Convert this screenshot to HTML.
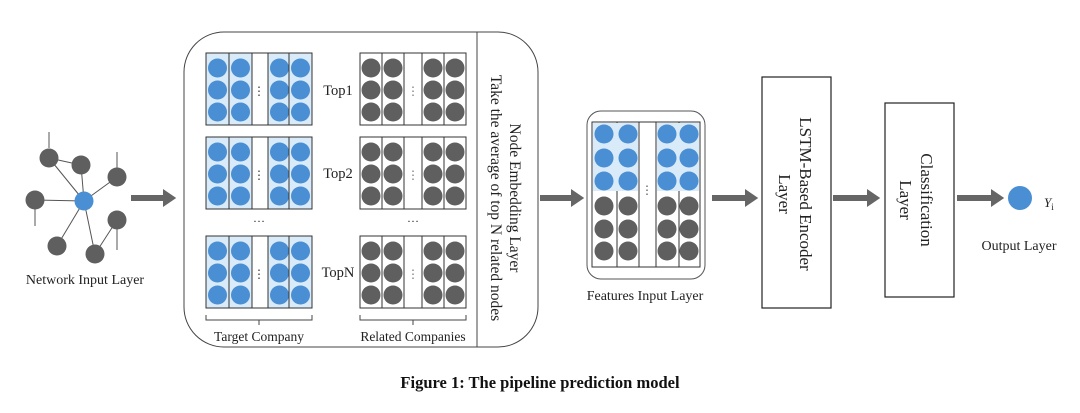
<!DOCTYPE html>
<html><head><meta charset="utf-8"><style>
html,body{margin:0;padding:0;background:#fff;}
svg{display:block;font-family:"Liberation Serif",serif;}
</style></head><body>
<svg width="1080" height="413" viewBox="0 0 1080 413" xmlns="http://www.w3.org/2000/svg">
<defs>
<g id="bcol"><rect x="0" y="0" width="23" height="72" fill="#d9ebf8" stroke="#333" stroke-width="1"/>
<circle cx="11.5" cy="15" r="9.5" fill="#4a8ed3"/><circle cx="11.5" cy="37" r="9.5" fill="#4a8ed3"/><circle cx="11.5" cy="59" r="9.5" fill="#4a8ed3"/></g>
<g id="gcol"><rect x="0" y="0" width="22" height="72" fill="#fff" stroke="#333" stroke-width="1"/>
<circle cx="11" cy="15" r="9.5" fill="#5f5f5f"/><circle cx="11" cy="37" r="9.5" fill="#5f5f5f"/><circle cx="11" cy="59" r="9.5" fill="#5f5f5f"/></g>
<g id="bgrid"><rect x="0" y="0" width="106" height="72" fill="#fff" stroke="#333"/>
<use href="#bcol" x="0"/><use href="#bcol" x="23"/><use href="#bcol" x="62"/><use href="#bcol" x="83"/>
<text x="53" y="42" font-size="12" text-anchor="middle" fill="#333">⋮</text></g>
<g id="ggrid"><rect x="0" y="0" width="106" height="72" fill="#fff" stroke="#333"/>
<use href="#gcol" x="0"/><use href="#gcol" x="22"/><use href="#gcol" x="62"/><use href="#gcol" x="84"/>
<text x="53" y="42" font-size="12" text-anchor="middle" fill="#777">⋮</text></g>
<marker id="ah" markerWidth="3" markerHeight="3" refX="1.5" refY="1.5" orient="auto" markerUnits="strokeWidth"><path d="M0,0 L2.2,1.5 L0,3 z" fill="#666"/></marker>
</defs>

<g stroke="#555" stroke-width="1">
<line x1="84" y1="201" x2="49" y2="158"/><line x1="84" y1="201" x2="81" y2="165"/><line x1="84" y1="201" x2="117" y2="177"/>
<line x1="84" y1="201" x2="35" y2="200"/><line x1="84" y1="201" x2="57" y2="246"/><line x1="84" y1="201" x2="95" y2="254"/>
<line x1="49" y1="158" x2="81" y2="165"/><line x1="95" y1="254" x2="117" y2="220"/>
<line x1="49" y1="148" x2="49" y2="132"/><line x1="117" y1="170" x2="117" y2="152"/><line x1="35" y1="208" x2="35" y2="226"/><line x1="117" y1="228" x2="117" y2="250"/>
</g>
<g fill="#5f5f5f"><circle cx="49" cy="158" r="9.5"/><circle cx="81" cy="165" r="9.5"/><circle cx="117" cy="177" r="9.5"/><circle cx="35" cy="200" r="9.5"/><circle cx="117" cy="220" r="9.5"/><circle cx="57" cy="246" r="9.5"/><circle cx="95" cy="254" r="9.5"/></g>
<circle cx="84" cy="201" r="9.5" fill="#4a8ed3"/>
<text x="85" y="284" font-size="14" text-anchor="middle" fill="#222">Network Input Layer</text>

<g stroke="#666" stroke-width="6" fill="none">
<line x1="131" y1="198" x2="172" y2="198" marker-end="url(#ah)"/>
<line x1="540" y1="198" x2="580" y2="198" marker-end="url(#ah)"/>
<line x1="712" y1="198" x2="754" y2="198" marker-end="url(#ah)"/>
<line x1="833" y1="198" x2="876" y2="198" marker-end="url(#ah)"/>
<line x1="957" y1="198" x2="1000" y2="198" marker-end="url(#ah)"/>
</g>

<rect x="184" y="32" width="354" height="315" rx="40" fill="none" stroke="#444" stroke-width="1"/>
<line x1="477" y1="32" x2="477" y2="347" stroke="#444"/>
<use href="#bgrid" x="206" y="53"/><use href="#bgrid" x="206" y="137"/><use href="#bgrid" x="206" y="236"/>
<use href="#ggrid" x="360" y="53"/><use href="#ggrid" x="360" y="137"/><use href="#ggrid" x="360" y="236"/>
<g font-size="14.5" fill="#222" text-anchor="middle">
<text x="338" y="95">Top1</text><text x="338" y="178">Top2</text><text x="338" y="277">TopN</text>
<text x="259" y="222" font-size="12">…</text><text x="413" y="222" font-size="12">…</text>
</g>
<g stroke="#444" fill="none" stroke-width="1">
<path d="M206,315 v5 H312 v-5 M259,320 v5"/>
<path d="M360,315 v5 H466 v-5 M413,320 v5"/>
</g>
<g font-size="13.5" fill="#222" text-anchor="middle">
<text x="259" y="341">Target Company</text><text x="413" y="341">Related Companies</text>
</g>
<g font-size="15.5" fill="#222" text-anchor="middle">
<text transform="translate(510,198) rotate(90)">Node Embedding Layer</text>
<text transform="translate(491,198) rotate(90)">Take the average of top N related nodes</text>
</g>

<rect x="587" y="111" width="118" height="168" rx="14" fill="none" stroke="#555"/>
<rect x="592" y="122" width="108" height="145" fill="#fff" stroke="#333"/>
<g>
<rect x="592" y="122" width="25" height="145" fill="#fff" stroke="#333"/><rect x="617" y="122" width="22" height="145" fill="#fff" stroke="#333"/>
<rect x="656" y="122" width="23" height="145" fill="#fff" stroke="#333"/><rect x="679" y="122" width="21" height="145" fill="#fff" stroke="#333"/>
<rect x="593" y="123" width="45" height="68" fill="#d9ebf8"/><rect x="657" y="123" width="42" height="68" fill="#d9ebf8"/>
</g>
<g fill="#4a8ed3">
<circle cx="604" cy="134" r="9.5"/><circle cx="628" cy="134" r="9.5"/><circle cx="667" cy="134" r="9.5"/><circle cx="689" cy="134" r="9.5"/>
<circle cx="604" cy="158" r="9.5"/><circle cx="628" cy="158" r="9.5"/><circle cx="667" cy="158" r="9.5"/><circle cx="689" cy="158" r="9.5"/>
<circle cx="604" cy="181" r="9.5"/><circle cx="628" cy="181" r="9.5"/><circle cx="667" cy="181" r="9.5"/><circle cx="689" cy="181" r="9.5"/>
</g>
<g fill="#5f5f5f">
<circle cx="604" cy="206" r="9.5"/><circle cx="628" cy="206" r="9.5"/><circle cx="667" cy="206" r="9.5"/><circle cx="689" cy="206" r="9.5"/>
<circle cx="604" cy="229" r="9.5"/><circle cx="628" cy="229" r="9.5"/><circle cx="667" cy="229" r="9.5"/><circle cx="689" cy="229" r="9.5"/>
<circle cx="604" cy="251" r="9.5"/><circle cx="628" cy="251" r="9.5"/><circle cx="667" cy="251" r="9.5"/><circle cx="689" cy="251" r="9.5"/>
</g>
<text x="647" y="194" font-size="12" text-anchor="middle" fill="#555">⋮</text>
<text x="645" y="300" font-size="14" text-anchor="middle" fill="#222">Features Input Layer</text>

<rect x="762" y="77" width="69" height="231" fill="#fff" stroke="#222" stroke-width="1.2"/>
<g font-size="17" fill="#222" text-anchor="middle">
<text transform="translate(800,194) rotate(90)">LSTM-Based Encoder</text>
<text transform="translate(779,194) rotate(90)">Layer</text>
</g>
<rect x="885" y="103" width="69" height="194" fill="#fff" stroke="#222" stroke-width="1.2"/>
<g font-size="17" fill="#222" text-anchor="middle">
<text transform="translate(921,200) rotate(90)">Classification</text>
<text transform="translate(900,200) rotate(90)">Layer</text>
</g>
<circle cx="1020" cy="198" r="12" fill="#4a8ed3"/>
<text x="1044" y="207" font-size="13" font-style="italic" fill="#222">Y<tspan font-size="9" dy="3" font-style="normal">i</tspan></text>
<text x="1019" y="250" font-size="14" text-anchor="middle" fill="#222">Output Layer</text>

<text x="540" y="388" font-size="16.5" font-weight="bold" text-anchor="middle" fill="#111">Figure 1: The pipeline prediction model</text>
</svg>
</body></html>
